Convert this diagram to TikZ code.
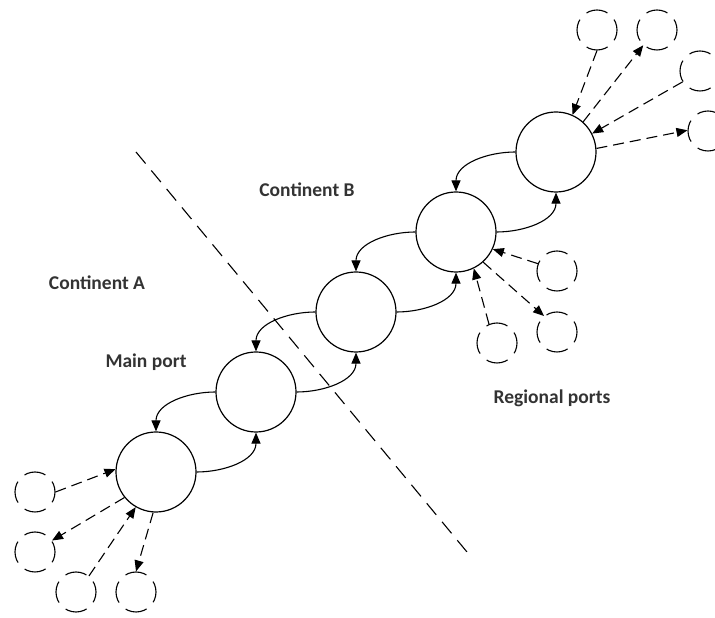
\documentclass[tikz,border=0pt]{standalone}
\usepackage{fontspec}
\setmainfont{Carlito}
\usetikzlibrary{arrows.meta}

\begin{document}
\begin{tikzpicture}[x=1pt,y=1pt,
  port/.style={circle, draw, line width=1.2pt, minimum size=80pt, inner sep=0pt},
  regional/.style={circle, draw, line width=1.1pt, minimum size=40pt, inner sep=0pt,
                   dash pattern=on 22pt off 9.42pt, dash phase=11pt},
  link/.style={line width=1.1pt, -{Triangle[length=11pt,width=9pt]}},
  feeder/.style={line width=1.1pt, dash pattern=on 11pt off 6pt, -{Triangle[length=11pt,width=9pt]}},
  border/.style={line width=1.1pt, dash pattern=on 15pt off 9pt},
  regiontext/.style={font=\bfseries\fontsize{19.5}{24}\selectfont, text=black!80, inner sep=0pt},
]
\useasboundingbox (0,0) rectangle (715,618);

% chain of main ports
\node[port] (p1) at (156,146) {};
\node[port] (p2) at (256,226) {};
\node[port] (p3) at (356,306) {};
\node[port] (p4) at (456,386) {};
\node[port] (p5) at (556,466) {};

% two-way links between neighbouring ports
\foreach \a/\b in {p1/p2, p2/p3, p3/p4, p4/p5} {
  \draw[link] (\a.east) to[out=0,in=-90] (\b.south);
  \draw[link] (\b.west) to[out=180,in=90] (\a.north);
}

% feeder ports
\node[regional] (s1) at (35,126) {};
\node[regional] (s2) at (35,66) {};
\node[regional] (s3) at (76,26) {};
\node[regional] (s4) at (136,26) {};
\node[regional] (s5) at (597,588) {};
\node[regional] (s6) at (657,588) {};
\node[regional] (s7) at (700,547) {};
\node[regional] (s8) at (708,487) {};
\node[regional] (s9) at (557,347) {};
\node[regional] (s10) at (557,286) {};
\node[regional] (s11) at (497,275) {};

% feeder traffic
\draw[feeder] (s1.0) -- (p1.176);
\draw[feeder] (p1.219) -- (s2.34);
\draw[feeder] (s3.51) -- (p1.240);
\draw[feeder] (p1.266) -- (s4.90);
\draw[feeder] (s5.-90) -- (p5.66);
\draw[feeder] (p5.48) -- (s6.228);
\draw[feeder] (s7.212) -- (p5.27);
\draw[feeder] (p5.5) -- (s8.178);
\draw[feeder] (s9.159) -- (p4.-25);
\draw[feeder] (p4.-48) -- (s10.129);
\draw[feeder] (s11.113) -- (p4.-64);

% boundary between the continents
\coordinate (b1) at (136,466);
\coordinate (b2) at (467,66);
\draw[border] (b1) -- (b2);

% labels
\node[regiontext] (tB) at (307,428) {Continent B};
\node[regiontext] (tA) at (97,335) {Continent A};
\node[regiontext] (tM) at (146,256) {Main port};
\node[regiontext] (tR) at (552,220) {Regional ports};
\end{tikzpicture}
\end{document}
